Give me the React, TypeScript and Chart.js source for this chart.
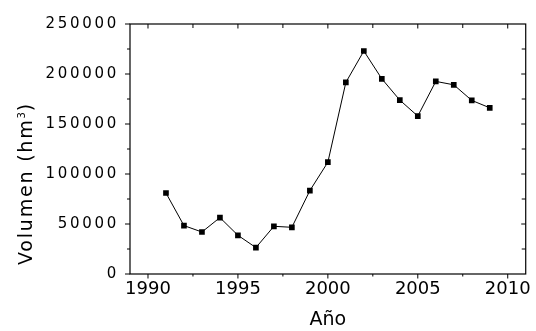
import React, { useEffect, useRef } from 'react';
import { Chart, registerables } from 'chart.js';

Chart.register(...registerables);

// ---- Data ----
const years = [1991, 1992, 1993, 1994, 1995, 1996, 1997, 1998, 1999, 2000, 2001, 2002, 2003, 2004, 2005, 2006, 2007, 2008, 2009];
const volumes = [81000, 48400, 42000, 56400, 38700, 26400, 47700, 46700, 83400, 111800, 191600, 223000, 195200, 173900, 157900, 192600, 189200, 173600, 166200];

const xMin = 1989;
const xMax = 2011;
const xTickValues = [1990, 1995, 2000, 2005, 2010];
const xMinorValues = [1992.5, 1997.5, 2002.5, 2007.5];
const yMin = 0;
const yMax = 250000;
const yTickValues = [0, 50000, 100000, 150000, 200000, 250000];
const yMinorValues = [25000, 75000, 125000, 175000, 225000];

const xTitle = 'Año';
const yTitleMain = 'Volumen (hm';
const yTitleSup = '3';
const yTitleEnd = ')';

const FAMILY = '"DejaVu Sans"';

const spacingPlugin = {
  id: 'spacing',
  beforeDraw(chart: any) {
    chart.ctx.letterSpacing = '2.7px';
  },
  beforeDatasetsDraw(chart: any) {
    chart.ctx.letterSpacing = '0px';
  },
};

const framePlugin = {
  id: 'frame',
  afterDraw(chart: any) {
    const { ctx, chartArea, scales } = chart;
    const { left, right, top, bottom } = chartArea;
    const x = scales.x;
    const y = scales.y;
    ctx.save();
    ctx.letterSpacing = '0px';
    ctx.strokeStyle = '#000';
    ctx.lineWidth = 1.2;
    ctx.strokeRect(left, top, right - left, bottom - top);

    ctx.lineWidth = 1;
    ctx.beginPath();
    for (const v of xTickValues) {
      const px = x.getPixelForValue(v);
      ctx.moveTo(px, bottom); ctx.lineTo(px, bottom + 4.5);
      ctx.moveTo(px, top); ctx.lineTo(px, top + 4.5);
    }
    for (const v of xMinorValues) {
      const px = x.getPixelForValue(v);
      ctx.moveTo(px, bottom); ctx.lineTo(px, bottom + 2.5);
      ctx.moveTo(px, top); ctx.lineTo(px, top + 4);
    }
    for (const v of yTickValues) {
      const py = y.getPixelForValue(v);
      ctx.moveTo(left, py); ctx.lineTo(left - 5, py);
      if (v !== yMin && v !== yMax) { ctx.moveTo(right, py); ctx.lineTo(right - 4.5, py); }
    }
    for (const v of yMinorValues) {
      const py = y.getPixelForValue(v);
      ctx.moveTo(left, py); ctx.lineTo(left - 3, py);
      ctx.moveTo(right, py); ctx.lineTo(right - 4, py);
    }
    ctx.stroke();

    // rotated y-axis title with superscript
    ctx.fillStyle = '#000';
    ctx.translate(left - 98.5, bottom - 9);
    ctx.rotate(-Math.PI / 2);
    ctx.textAlign = 'left';
    ctx.textBaseline = 'alphabetic';
    ctx.font = `19px ${FAMILY}`;
    ctx.letterSpacing = '1.8px';
    ctx.fillText(yTitleMain, 0, 0);
    let w = ctx.measureText(yTitleMain).width;
    ctx.font = `10px ${FAMILY}`;
    ctx.letterSpacing = '1px';
    ctx.fillText(yTitleSup, w, -7);
    w += ctx.measureText(yTitleSup).width;
    ctx.font = `19px ${FAMILY}`;
    ctx.letterSpacing = '1.8px';
    ctx.fillText(yTitleEnd, w, 0);
    ctx.restore();
  },
};

export default function App() {
  const ref = useRef<HTMLCanvasElement>(null);

  useEffect(() => {
    const canvas = ref.current;
    if (!canvas) return;
    const chart = new Chart(canvas, {
      type: 'line',
      data: {
        datasets: [
          {
            data: years.map((yr, i) => ({ x: yr, y: volumes[i] })),
            borderColor: '#000',
            borderWidth: 1,
            backgroundColor: '#000',
            pointStyle: 'rect',
            pointRadius: 4,
            pointBackgroundColor: '#000',
            pointBorderWidth: 0,
            tension: 0,
            fill: false,
          },
        ],
      },
      options: {
        animation: false,
        responsive: false,
        devicePixelRatio: 1,
        layout: { padding: { top: 24, right: 8, left: 0, bottom: 0 } },
        plugins: {
          legend: { display: false },
          tooltip: { enabled: false },
        },
        scales: {
          x: {
            type: 'linear',
            min: xMin,
            max: xMax,
            afterBuildTicks: (s: any) => {
              s.ticks = xTickValues.map((v) => ({ value: v }));
            },
            afterFit: (s: any) => {
              s.height = 57;
            },
            grid: { display: false, drawTicks: false, z: 1 },
            border: { display: false, z: 1 },
            ticks: {
              z: 1,
              padding: 5,
              color: '#000',
              autoSkip: false,
              maxRotation: 0,
              font: { family: FAMILY, size: 18 },
              callback: (v: any) => String(v),
            },
            title: {
              display: true,
              text: xTitle,
              color: '#000',
              font: { family: FAMILY, size: 19, lineHeight: 1 },
              padding: { top: 0, bottom: 1 },
            },
          },
          y: {
            type: 'linear',
            min: yMin,
            max: yMax,
            afterBuildTicks: (s: any) => {
              s.ticks = yTickValues.map((v) => ({ value: v }));
            },
            afterFit: (s: any) => {
              s.width = 130;
            },
            grid: { display: false, drawTicks: false },
            border: { display: false },
            ticks: {
              padding: 11,
              color: '#000',
              autoSkip: false,
              font: { family: FAMILY, size: 15 },
              callback: (v: any) => String(v),
            },
          },
        },
      } as any,
      plugins: [spacingPlugin, framePlugin],
    });
    return () => chart.destroy();
  }, []);

  return (
    <div style={{ position: 'fixed', left: 0, top: 0, width: 536, height: 331, background: '#fff' }}>
      <canvas ref={ref} width={536} height={331} style={{ display: 'block', width: 536, height: 331 }} />
    </div>
  );
}
